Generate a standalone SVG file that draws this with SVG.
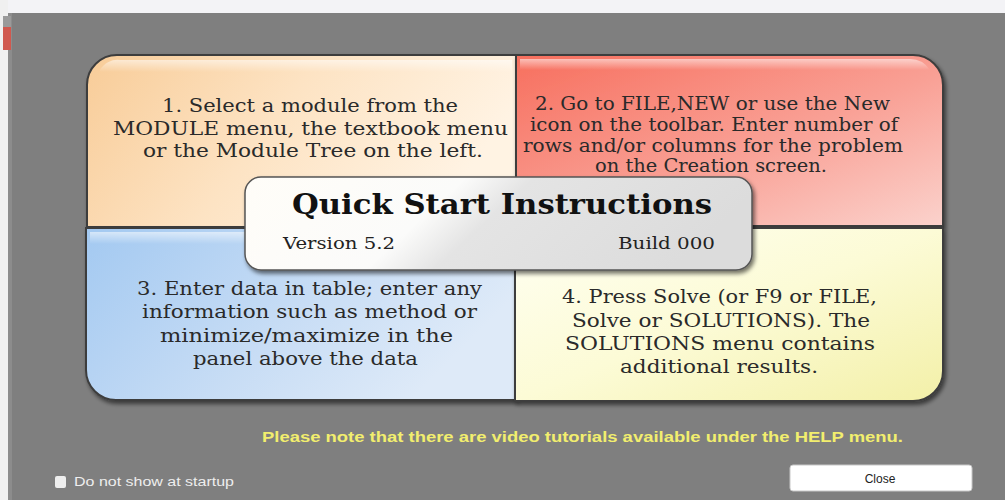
<svg xmlns="http://www.w3.org/2000/svg" width="1005" height="500" viewBox="0 0 1005 500">
<defs>
<style>
.q{font-family:"DejaVu Serif","Liberation Serif",serif;font-size:18.5px;fill:#2a2a2a}
.t{font-family:"DejaVu Serif","Liberation Serif",serif;font-size:27px;font-weight:bold;fill:#111111}
.v{font-family:"DejaVu Serif","Liberation Serif",serif;font-size:16px;fill:#222222}
.edge{stroke:#3d3d3d;stroke-width:2}
</style>
<filter id="sh" x="-10%" y="-10%" width="120%" height="130%">
<feDropShadow dx="2" dy="3" stdDeviation="2" flood-color="#000" flood-opacity="0.55"/>
</filter>
<linearGradient id="g1" x1="0" y1="0" x2="1" y2="0.3">
<stop offset="0" stop-color="#f8cc98"/><stop offset="0.5" stop-color="#fde3c3"/><stop offset="1" stop-color="#fff3e3"/>
</linearGradient>
<linearGradient id="g2" x1="0" y1="0" x2="1" y2="1">
<stop offset="0" stop-color="#f76f5e"/><stop offset="0.55" stop-color="#f9a095"/><stop offset="1" stop-color="#fbd2cc"/>
</linearGradient>
<linearGradient id="g3" x1="0" y1="0" x2="1" y2="0.4">
<stop offset="0" stop-color="#a3c9f1"/><stop offset="0.6" stop-color="#c8ddf5"/><stop offset="1" stop-color="#deeaf8"/>
</linearGradient>
<linearGradient id="g4" x1="0" y1="0" x2="1" y2="1">
<stop offset="0" stop-color="#fffff2"/><stop offset="0.5" stop-color="#fcfbd6"/><stop offset="1" stop-color="#f3f0a8"/>
</linearGradient>
<linearGradient id="gc" x1="0" y1="0" x2="1" y2="0.2">
<stop offset="0" stop-color="#fffdf8"/><stop offset="0.42" stop-color="#fbfbfa"/><stop offset="0.55" stop-color="#e4e4e4"/><stop offset="1" stop-color="#dcdcdc"/>
</linearGradient>
<linearGradient id="hl" x1="0" y1="0" x2="0" y2="1">
<stop offset="0" stop-color="#ffffff" stop-opacity="0.55"/><stop offset="1" stop-color="#ffffff" stop-opacity="0"/>
</linearGradient>
</defs>
<rect x="0" y="0" width="1005" height="500" fill="#7f7f7f"/>
<rect x="0" y="0" width="1005" height="13" fill="#f3f3f6"/>
<rect x="0" y="0" width="8" height="500" fill="#f0f0f0"/>
<rect x="8" y="13" width="4" height="487" fill="#8c8c8c"/>
<rect x="3" y="16" width="8" height="11" fill="#9a9a9a"/>
<rect x="3" y="27" width="8" height="23" fill="#d0584e"/>

<g id="quadrant1">
<path class="edge" filter="url(#sh)" fill="url(#g1)" d="M87,227 V85 A30,30 0 0 1 117,55 H516 V227 Z"/>
<path fill="url(#hl)" d="M100,70 A20,20 0 0 1 120,60 H512 V72 H100 Z"/>
<text class="q" x="162" y="112" textLength="296" lengthAdjust="spacingAndGlyphs">1. Select a module from the</text>
<text class="q" x="113" y="135" textLength="395" lengthAdjust="spacingAndGlyphs">MODULE menu, the textbook menu</text>
<text class="q" x="143" y="157" textLength="340" lengthAdjust="spacingAndGlyphs">or the Module Tree on the left.</text>
</g>
<g id="quadrant2">
<path class="edge" filter="url(#sh)" fill="url(#g2)" d="M516,55 H913 A30,30 0 0 1 943,85 V226 H516 Z"/>
<path fill="url(#hl)" d="M520,59 H910 A24,24 0 0 1 930,70 H520 Z"/>
<text class="q" x="535" y="110" textLength="355" lengthAdjust="spacingAndGlyphs">2. Go to FILE,NEW or use the New</text>
<text class="q" x="530" y="131" textLength="368" lengthAdjust="spacingAndGlyphs">icon on the toolbar. Enter number of</text>
<text class="q" x="523" y="152" textLength="380" lengthAdjust="spacingAndGlyphs">rows and/or columns for the problem</text>
<text class="q" x="595" y="172" textLength="232" lengthAdjust="spacingAndGlyphs">on the Creation screen.</text>
</g>
<g id="quadrant3">
<path class="edge" filter="url(#sh)" fill="url(#g3)" d="M86,228 H515 V400 H116 A30,30 0 0 1 86,370 Z"/>
<path fill="url(#hl)" d="M90,232 H511 V244 H90 Z"/>
<text class="q" x="137" y="295" textLength="345" lengthAdjust="spacingAndGlyphs">3. Enter data in table; enter any</text>
<text class="q" x="142" y="318" textLength="335" lengthAdjust="spacingAndGlyphs">information such as method or</text>
<text class="q" x="160" y="342" textLength="293" lengthAdjust="spacingAndGlyphs">minimize/maximize in the</text>
<text class="q" x="193" y="365" textLength="225" lengthAdjust="spacingAndGlyphs">panel above the data</text>
</g>
<g id="quadrant4">
<path class="edge" filter="url(#sh)" fill="url(#g4)" d="M515,228 H943 V371 A30,30 0 0 1 913,401 H515 Z"/>
<text class="q" x="562" y="303" textLength="315" lengthAdjust="spacingAndGlyphs">4. Press Solve (or F9 or FILE,</text>
<text class="q" x="572" y="327" textLength="298" lengthAdjust="spacingAndGlyphs">Solve or SOLUTIONS). The</text>
<text class="q" x="565" y="350" textLength="310" lengthAdjust="spacingAndGlyphs">SOLUTIONS menu contains</text>
<text class="q" x="620" y="373" textLength="198" lengthAdjust="spacingAndGlyphs">additional results.</text>
</g>
<g id="title-box">
<rect x="245" y="177" width="507" height="93" rx="16" fill="url(#gc)" stroke="#555555" stroke-width="1.5" filter="url(#sh)"/>
<text class="t" x="292" y="214" textLength="420" lengthAdjust="spacingAndGlyphs">Quick Start Instructions</text>
<text class="v" x="283" y="249" textLength="112" lengthAdjust="spacingAndGlyphs">Version 5.2</text>
<text class="v" x="618" y="249" textLength="97" lengthAdjust="spacingAndGlyphs">Build 000</text>
</g>
<g id="connectors"></g>
<g id="footer">
<text x="262" y="442" textLength="641" lengthAdjust="spacingAndGlyphs" font-family="Liberation Sans, Arial, sans-serif" font-size="14" font-weight="bold" fill="#f2ee6e">Please note that there are video tutorials available under the HELP menu.</text>
<rect x="55" y="476" width="11" height="12" rx="2" fill="#eeeeee"/>
<text x="74" y="486" textLength="160" lengthAdjust="spacingAndGlyphs" font-family="Liberation Sans, Arial, sans-serif" font-size="12" fill="#eeeeee">Do not show at startup</text>
<rect x="790" y="465" width="182" height="26" rx="3" fill="#ffffff" stroke="#c8c8c8"/>
<text x="880" y="483" text-anchor="middle" font-family="Liberation Sans, Arial, sans-serif" font-size="12" fill="#222222">Close</text>
</g>
</svg>
